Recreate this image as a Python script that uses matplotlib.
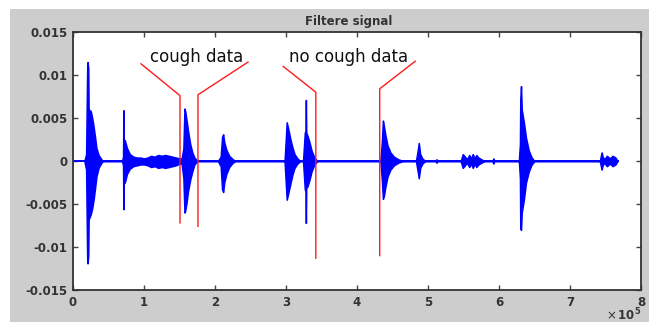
import numpy as np
import matplotlib
matplotlib.use('Agg')
import matplotlib.pyplot as plt
from matplotlib.patches import Rectangle

###########################
# DATA (x in units of 1e5) #
###########################
# signal envelope, one row per burst
env_x = [0.16, 0.185, 0.20, 0.205, 0.215, 0.22, 0.25, 0.27, 0.29, 0.31, 0.33, 0.36, 0.40, 0.42,
         0.69, 0.705, 0.71, 0.715, 0.73, 0.76, 0.80, 0.85, 0.90,
         0.95, 1.00, 1.05, 1.10, 1.15, 1.20, 1.25, 1.30, 1.35, 1.40, 1.45, 1.50,
         1.53, 1.555, 1.57, 1.58, 1.60, 1.62, 1.65, 1.68, 1.71, 1.75,
         2.04, 2.08, 2.10, 2.115, 2.13, 2.16, 2.20, 2.25, 2.29,
         2.98, 3.00, 3.01, 3.03, 3.06, 3.09, 3.12, 3.16, 3.20,
         3.24, 3.265, 3.275, 3.28, 3.285, 3.30, 3.33, 3.36, 3.40, 3.44,
         4.33, 4.35, 4.365, 4.38, 4.40, 4.43, 4.47, 4.52, 4.58, 4.65,
         4.83, 4.855, 4.87, 4.89, 4.92, 4.96,
         5.11, 5.12, 5.13,
         5.46, 5.49, 5.52, 5.55, 5.58, 5.61, 5.63, 5.66, 5.68, 5.71, 5.75, 5.80,
         5.91, 5.92, 5.93,
         6.28, 6.295, 6.30, 6.31, 6.32, 6.35, 6.38, 6.42, 6.46, 6.50,
         7.42, 7.445, 7.46, 7.48, 7.52, 7.56, 7.60, 7.64, 7.67]
env_hi = [0, 0.0008, 0.0108, 0.0115, 0.0108, 0.0060, 0.0058, 0.0050, 0.0040, 0.0028, 0.0015, 0.0007, 0.0002, 0,
          0, 0.0005, 0.0059, 0.0025, 0.0024, 0.0015, 0.0008, 0.0005, 0.0004,
          0.0004, 0.0003, 0.0004, 0.0006, 0.0005, 0.0007, 0.0006, 0.0007, 0.0006, 0.0005, 0.0004, 0.0003,
          0.0003, 0.0015, 0.0061, 0.0058, 0.0047, 0.0035, 0.0020, 0.0010, 0.0004, 0,
          0, 0.0005, 0.0028, 0.0031, 0.0022, 0.0013, 0.0006, 0.0002, 0,
          0, 0.0030, 0.0045, 0.0038, 0.0026, 0.0016, 0.0008, 0.0003, 0,
          0, 0.0033, 0.0035, 0.0071, 0.0033, 0.0030, 0.0022, 0.0012, 0.0004, 0,
          0, 0.0022, 0.0047, 0.0040, 0.0030, 0.0018, 0.0010, 0.0005, 0.0002, 0,
          0, 0.0012, 0.0021, 0.0008, 0.0003, 0,
          0, 0.0002, 0,
          0, 0.0008, 0.0005, 0.0002, 0.0007, 0.0003, 0.0008, 0.0003, 0.0007, 0.0004, 0.0002, 0,
          0, 0.0003, 0,
          0, 0.0020, 0.0072, 0.0087, 0.0060, 0.0045, 0.0027, 0.0012, 0.0004, 0,
          0, 0.0010, 0.0005, 0.0002, 0.0006, 0.0003, 0.0006, 0.0004, 0]
env_lo = [0, -0.0010, -0.0115, -0.0119, -0.0110, -0.0068, -0.0062, -0.0055, -0.0045, -0.0032, -0.0018, -0.0008, -0.0002, 0,
          0, -0.0005, -0.0056, -0.0026, -0.0025, -0.0015, -0.0009, -0.0006, -0.0005,
          -0.0004, -0.0004, -0.0005, -0.0007, -0.0006, -0.0008, -0.0007, -0.0008, -0.0007, -0.0006, -0.0005, -0.0003,
          -0.0003, -0.0020, -0.0060, -0.0058, -0.0048, -0.0035, -0.0022, -0.0012, -0.0004, 0,
          0, -0.0006, -0.0033, -0.0036, -0.0025, -0.0015, -0.0007, -0.0002, 0,
          0, -0.0030, -0.0045, -0.0038, -0.0027, -0.0016, -0.0008, -0.0003, 0,
          0, -0.0033, -0.0035, -0.0072, -0.0031, -0.0030, -0.0022, -0.0012, -0.0004, 0,
          0, -0.0022, -0.0044, -0.0040, -0.0030, -0.0018, -0.0010, -0.0005, -0.0002, 0,
          0, -0.0012, -0.0020, -0.0008, -0.0003, 0,
          0, -0.0002, 0,
          0, -0.0008, -0.0005, -0.0002, -0.0007, -0.0003, -0.0008, -0.0003, -0.0007, -0.0004, -0.0002, 0,
          0, -0.0003, 0,
          0, -0.0020, -0.0078, -0.0080, -0.0060, -0.0045, -0.0025, -0.0012, -0.0004, 0,
          0, -0.0010, -0.0005, -0.0002, -0.0006, -0.0003, -0.0006, -0.0004, 0]
signal_span = [0.0, 7.67]

# red marker lines: (diagonal start, corner, bottom)
cough_left_x, cough_left_y = [0.958, 1.507, 1.507], [0.0113, 0.0076, -0.0072]
cough_right_x, cough_right_y = [2.465, 1.76, 1.76], [0.0115, 0.0077, -0.0076]
nocough_left_x, nocough_left_y = [2.96, 3.42, 3.42], [0.0110, 0.0080, -0.0113]
nocough_right_x, nocough_right_y = [4.82, 4.32, 4.32], [0.0116, 0.0084, -0.0110]

labels = ['cough data', 'no cough data']
label_x = [1.74, 3.88]
label_y = [0.0121, 0.0121]

xticks = [0, 1, 2, 3, 4, 5, 6, 7, 8]
yticks = [-0.015, -0.01, -0.005, 0, 0.005, 0.01, 0.015]
yticklabels = ['-0.015', '-0.01', '-0.005', '0', '0.005', '0.01', '0.015']

###########
# FIGURE  #
###########
W, H = 649, 322
fig = plt.figure(figsize=(W / 100, H / 100), dpi=100, facecolor='white')
fig.add_artist(Rectangle((10 / W, 0), 1 - 10 / W, 1 - 9 / H, transform=fig.transFigure,
                         facecolor='#cdcdcd', edgecolor='none', zorder=0))

ax = fig.add_axes([73 / W, 32 / H, (641 - 73) / W, (290 - 32) / H])
ax.set_facecolor('white')

blue = '#0000ff'
ax.fill_between(env_x, env_hi, env_lo, color=blue, linewidth=1.1, edgecolor=blue)
ax.plot(signal_span, [0, 0], color=blue, linewidth=1.4)

for xs, ys in [(cough_left_x, cough_left_y), (cough_right_x, cough_right_y),
               (nocough_left_x, nocough_left_y), (nocough_right_x, nocough_right_y)]:
    ax.plot(xs, ys, color='#ff1a1a', linewidth=1.0)

for t, x, y in zip(labels, label_x, label_y):
    ax.text(x, y, t, ha='center', va='center', fontsize=12, color='#111111',
            family='DejaVu Sans')

ax.set_xlim(0, 8)
ax.set_ylim(-0.015, 0.015)
ax.set_xticks(xticks)
ax.set_yticks(yticks)
ax.set_yticklabels(yticklabels)
ax.tick_params(direction='in', length=3.5, width=1.0, color='#444444',
               top=True, right=True, labelsize=8.5, labelcolor='#333333', pad=4)
for lab in ax.get_xticklabels() + ax.get_yticklabels():
    lab.set_fontweight('bold')
for s in ax.spines.values():
    s.set_color('#333333')
    s.set_linewidth(1.3)

fig.text(349 / W, 1 - 21 / H, 'Filtere signal', ha='center', va='center',
         fontsize=8.5, fontweight='bold', color='#333333')
fig.text(641 / W, 1 - 315 / H, r'$\times\,\mathbf{10^{5}}$', ha='right', va='center',
         fontsize=8.5, color='#333333')

fig.savefig('out.png', dpi=100, facecolor=fig.get_facecolor())
